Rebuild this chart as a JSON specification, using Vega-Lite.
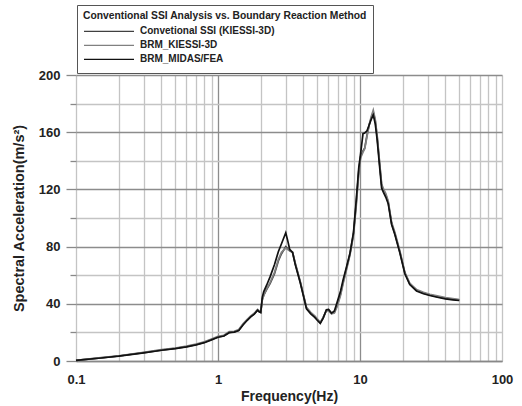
{
  "$schema": "https://vega.github.io/schema/vega-lite/v6.json",
  "width": 426,
  "height": 286,
  "autosize": {"type": "none"},
  "padding": {"left": 76, "top": 75, "right": 20, "bottom": 45},
  "background": "white",
  "config": {
    "font": "Liberation Sans",
    "view": {"stroke": null}
  },
  "data": {
    "values": [
      {"f": 0.1, "Convetional SSI (KIESSI-3D)": 0.5, "BRM_KIESSI-3D": 0.5, "BRM_MIDAS/FEA": 0.5},
      {"f": 0.15, "Convetional SSI (KIESSI-3D)": 2.2, "BRM_KIESSI-3D": 2.3, "BRM_MIDAS/FEA": 2.1},
      {"f": 0.2, "Convetional SSI (KIESSI-3D)": 3.5, "BRM_KIESSI-3D": 3.6, "BRM_MIDAS/FEA": 3.4},
      {"f": 0.3, "Convetional SSI (KIESSI-3D)": 5.8, "BRM_KIESSI-3D": 6.0, "BRM_MIDAS/FEA": 5.7},
      {"f": 0.4, "Convetional SSI (KIESSI-3D)": 7.6, "BRM_KIESSI-3D": 7.9, "BRM_MIDAS/FEA": 7.5},
      {"f": 0.5, "Convetional SSI (KIESSI-3D)": 8.8, "BRM_KIESSI-3D": 9.1, "BRM_MIDAS/FEA": 8.7},
      {"f": 0.6, "Convetional SSI (KIESSI-3D)": 10.0, "BRM_KIESSI-3D": 10.4, "BRM_MIDAS/FEA": 9.9},
      {"f": 0.7, "Convetional SSI (KIESSI-3D)": 11.4, "BRM_KIESSI-3D": 11.8, "BRM_MIDAS/FEA": 11.3},
      {"f": 0.8, "Convetional SSI (KIESSI-3D)": 13.0, "BRM_KIESSI-3D": 13.4, "BRM_MIDAS/FEA": 12.8},
      {"f": 0.9, "Convetional SSI (KIESSI-3D)": 15.0, "BRM_KIESSI-3D": 15.4, "BRM_MIDAS/FEA": 14.8},
      {"f": 1.0, "Convetional SSI (KIESSI-3D)": 16.8, "BRM_KIESSI-3D": 17.2, "BRM_MIDAS/FEA": 16.6},
      {"f": 1.1, "Convetional SSI (KIESSI-3D)": 17.6, "BRM_KIESSI-3D": 18.0, "BRM_MIDAS/FEA": 17.5},
      {"f": 1.2, "Convetional SSI (KIESSI-3D)": 20.0, "BRM_KIESSI-3D": 20.5, "BRM_MIDAS/FEA": 19.8},
      {"f": 1.3, "Convetional SSI (KIESSI-3D)": 20.4, "BRM_KIESSI-3D": 20.8, "BRM_MIDAS/FEA": 20.2},
      {"f": 1.4, "Convetional SSI (KIESSI-3D)": 21.5, "BRM_KIESSI-3D": 22.0, "BRM_MIDAS/FEA": 21.3},
      {"f": 1.5, "Convetional SSI (KIESSI-3D)": 25.5, "BRM_KIESSI-3D": 26.0, "BRM_MIDAS/FEA": 25.2},
      {"f": 1.6, "Convetional SSI (KIESSI-3D)": 28.5, "BRM_KIESSI-3D": 29.0, "BRM_MIDAS/FEA": 28.3},
      {"f": 1.7, "Convetional SSI (KIESSI-3D)": 31.0, "BRM_KIESSI-3D": 31.5, "BRM_MIDAS/FEA": 30.8},
      {"f": 1.8, "Convetional SSI (KIESSI-3D)": 33.0, "BRM_KIESSI-3D": 33.4, "BRM_MIDAS/FEA": 32.8},
      {"f": 1.9, "Convetional SSI (KIESSI-3D)": 35.5, "BRM_KIESSI-3D": 36.0, "BRM_MIDAS/FEA": 35.5},
      {"f": 1.95, "Convetional SSI (KIESSI-3D)": 34.5, "BRM_KIESSI-3D": 35.0, "BRM_MIDAS/FEA": 34.5},
      {"f": 2.0, "Convetional SSI (KIESSI-3D)": 34.0, "BRM_KIESSI-3D": 34.5, "BRM_MIDAS/FEA": 34.0},
      {"f": 2.05, "Convetional SSI (KIESSI-3D)": 43.0, "BRM_KIESSI-3D": 42.5, "BRM_MIDAS/FEA": 44.5},
      {"f": 2.1, "Convetional SSI (KIESSI-3D)": 46.0, "BRM_KIESSI-3D": 46.0, "BRM_MIDAS/FEA": 48.5},
      {"f": 2.2, "Convetional SSI (KIESSI-3D)": 50.0, "BRM_KIESSI-3D": 50.5, "BRM_MIDAS/FEA": 53.0},
      {"f": 2.33, "Convetional SSI (KIESSI-3D)": 54.3, "BRM_KIESSI-3D": 55.0, "BRM_MIDAS/FEA": 59.0},
      {"f": 2.5, "Convetional SSI (KIESSI-3D)": 61.0, "BRM_KIESSI-3D": 62.0, "BRM_MIDAS/FEA": 67.5},
      {"f": 2.66, "Convetional SSI (KIESSI-3D)": 70.0, "BRM_KIESSI-3D": 71.0, "BRM_MIDAS/FEA": 76.4},
      {"f": 2.8, "Convetional SSI (KIESSI-3D)": 75.0, "BRM_KIESSI-3D": 76.0, "BRM_MIDAS/FEA": 82.0},
      {"f": 3.0, "Convetional SSI (KIESSI-3D)": 80.0, "BRM_KIESSI-3D": 79.0, "BRM_MIDAS/FEA": 89.7},
      {"f": 3.1, "Convetional SSI (KIESSI-3D)": 78.5, "BRM_KIESSI-3D": 78.0, "BRM_MIDAS/FEA": 84.0},
      {"f": 3.2, "Convetional SSI (KIESSI-3D)": 77.0, "BRM_KIESSI-3D": 77.0, "BRM_MIDAS/FEA": 78.0},
      {"f": 3.35, "Convetional SSI (KIESSI-3D)": 76.0, "BRM_KIESSI-3D": 76.0, "BRM_MIDAS/FEA": 76.0},
      {"f": 3.5, "Convetional SSI (KIESSI-3D)": 68.0, "BRM_KIESSI-3D": 68.5, "BRM_MIDAS/FEA": 67.5},
      {"f": 3.8, "Convetional SSI (KIESSI-3D)": 55.0, "BRM_KIESSI-3D": 55.5, "BRM_MIDAS/FEA": 54.5},
      {"f": 4.2, "Convetional SSI (KIESSI-3D)": 37.0, "BRM_KIESSI-3D": 37.5, "BRM_MIDAS/FEA": 36.5},
      {"f": 4.5, "Convetional SSI (KIESSI-3D)": 33.5, "BRM_KIESSI-3D": 34.0, "BRM_MIDAS/FEA": 33.0},
      {"f": 4.8, "Convetional SSI (KIESSI-3D)": 31.0, "BRM_KIESSI-3D": 31.5, "BRM_MIDAS/FEA": 30.5},
      {"f": 5.0, "Convetional SSI (KIESSI-3D)": 29.0, "BRM_KIESSI-3D": 29.5, "BRM_MIDAS/FEA": 28.5},
      {"f": 5.25, "Convetional SSI (KIESSI-3D)": 26.5, "BRM_KIESSI-3D": 27.0, "BRM_MIDAS/FEA": 26.3},
      {"f": 5.5, "Convetional SSI (KIESSI-3D)": 30.0, "BRM_KIESSI-3D": 30.5, "BRM_MIDAS/FEA": 30.0},
      {"f": 5.8, "Convetional SSI (KIESSI-3D)": 35.5, "BRM_KIESSI-3D": 35.0, "BRM_MIDAS/FEA": 35.8},
      {"f": 6.0, "Convetional SSI (KIESSI-3D)": 35.8, "BRM_KIESSI-3D": 35.0, "BRM_MIDAS/FEA": 36.0},
      {"f": 6.3, "Convetional SSI (KIESSI-3D)": 33.3, "BRM_KIESSI-3D": 33.0, "BRM_MIDAS/FEA": 33.5},
      {"f": 6.6, "Convetional SSI (KIESSI-3D)": 34.0, "BRM_KIESSI-3D": 33.5, "BRM_MIDAS/FEA": 35.0},
      {"f": 6.9, "Convetional SSI (KIESSI-3D)": 39.0, "BRM_KIESSI-3D": 38.0, "BRM_MIDAS/FEA": 41.0},
      {"f": 7.3, "Convetional SSI (KIESSI-3D)": 47.0, "BRM_KIESSI-3D": 46.0, "BRM_MIDAS/FEA": 49.0},
      {"f": 7.6, "Convetional SSI (KIESSI-3D)": 55.0, "BRM_KIESSI-3D": 54.0, "BRM_MIDAS/FEA": 56.6},
      {"f": 8.0, "Convetional SSI (KIESSI-3D)": 64.0, "BRM_KIESSI-3D": 63.0, "BRM_MIDAS/FEA": 65.0},
      {"f": 8.5, "Convetional SSI (KIESSI-3D)": 75.0, "BRM_KIESSI-3D": 74.0, "BRM_MIDAS/FEA": 75.3},
      {"f": 9.0, "Convetional SSI (KIESSI-3D)": 89.0, "BRM_KIESSI-3D": 88.0, "BRM_MIDAS/FEA": 90.0},
      {"f": 9.4, "Convetional SSI (KIESSI-3D)": 110.0, "BRM_KIESSI-3D": 108.0, "BRM_MIDAS/FEA": 112.0},
      {"f": 9.8, "Convetional SSI (KIESSI-3D)": 133.0, "BRM_KIESSI-3D": 131.0, "BRM_MIDAS/FEA": 135.0},
      {"f": 10.1, "Convetional SSI (KIESSI-3D)": 143.0, "BRM_KIESSI-3D": 142.0, "BRM_MIDAS/FEA": 145.0},
      {"f": 10.5, "Convetional SSI (KIESSI-3D)": 147.0, "BRM_KIESSI-3D": 146.0, "BRM_MIDAS/FEA": 159.0},
      {"f": 10.8, "Convetional SSI (KIESSI-3D)": 149.0, "BRM_KIESSI-3D": 148.5, "BRM_MIDAS/FEA": 159.5},
      {"f": 11.2, "Convetional SSI (KIESSI-3D)": 158.0, "BRM_KIESSI-3D": 157.0, "BRM_MIDAS/FEA": 161.0},
      {"f": 11.6, "Convetional SSI (KIESSI-3D)": 165.0, "BRM_KIESSI-3D": 165.0, "BRM_MIDAS/FEA": 165.0},
      {"f": 12.0, "Convetional SSI (KIESSI-3D)": 170.0, "BRM_KIESSI-3D": 171.0, "BRM_MIDAS/FEA": 169.0},
      {"f": 12.4, "Convetional SSI (KIESSI-3D)": 174.0, "BRM_KIESSI-3D": 175.5, "BRM_MIDAS/FEA": 172.0},
      {"f": 12.8, "Convetional SSI (KIESSI-3D)": 168.0, "BRM_KIESSI-3D": 169.0, "BRM_MIDAS/FEA": 166.0},
      {"f": 13.2, "Convetional SSI (KIESSI-3D)": 157.0, "BRM_KIESSI-3D": 158.0, "BRM_MIDAS/FEA": 155.0},
      {"f": 13.8, "Convetional SSI (KIESSI-3D)": 136.0, "BRM_KIESSI-3D": 137.0, "BRM_MIDAS/FEA": 134.0},
      {"f": 14.2, "Convetional SSI (KIESSI-3D)": 123.0, "BRM_KIESSI-3D": 124.0, "BRM_MIDAS/FEA": 121.0},
      {"f": 14.6, "Convetional SSI (KIESSI-3D)": 119.5, "BRM_KIESSI-3D": 120.5, "BRM_MIDAS/FEA": 118.0},
      {"f": 15.2, "Convetional SSI (KIESSI-3D)": 116.0, "BRM_KIESSI-3D": 117.0, "BRM_MIDAS/FEA": 114.5},
      {"f": 15.8, "Convetional SSI (KIESSI-3D)": 111.0, "BRM_KIESSI-3D": 112.0, "BRM_MIDAS/FEA": 110.0},
      {"f": 16.7, "Convetional SSI (KIESSI-3D)": 96.0, "BRM_KIESSI-3D": 97.0, "BRM_MIDAS/FEA": 95.5},
      {"f": 17.6, "Convetional SSI (KIESSI-3D)": 89.0, "BRM_KIESSI-3D": 90.0, "BRM_MIDAS/FEA": 88.5},
      {"f": 19.1, "Convetional SSI (KIESSI-3D)": 76.0, "BRM_KIESSI-3D": 77.0, "BRM_MIDAS/FEA": 75.5},
      {"f": 20.7, "Convetional SSI (KIESSI-3D)": 61.5, "BRM_KIESSI-3D": 62.0, "BRM_MIDAS/FEA": 61.0},
      {"f": 22.4, "Convetional SSI (KIESSI-3D)": 54.0, "BRM_KIESSI-3D": 54.5, "BRM_MIDAS/FEA": 53.5},
      {"f": 25, "Convetional SSI (KIESSI-3D)": 49.5, "BRM_KIESSI-3D": 50.0, "BRM_MIDAS/FEA": 49.0},
      {"f": 28, "Convetional SSI (KIESSI-3D)": 47.5, "BRM_KIESSI-3D": 48.0, "BRM_MIDAS/FEA": 47.0},
      {"f": 31, "Convetional SSI (KIESSI-3D)": 46.2, "BRM_KIESSI-3D": 46.7, "BRM_MIDAS/FEA": 45.8},
      {"f": 35, "Convetional SSI (KIESSI-3D)": 45.0, "BRM_KIESSI-3D": 45.5, "BRM_MIDAS/FEA": 44.6},
      {"f": 40, "Convetional SSI (KIESSI-3D)": 43.8, "BRM_KIESSI-3D": 44.3, "BRM_MIDAS/FEA": 43.4},
      {"f": 45, "Convetional SSI (KIESSI-3D)": 43.2, "BRM_KIESSI-3D": 43.6, "BRM_MIDAS/FEA": 42.8},
      {"f": 50, "Convetional SSI (KIESSI-3D)": 42.7, "BRM_KIESSI-3D": 43.0, "BRM_MIDAS/FEA": 42.3}
    ]
  },
  "transform": [
    {"fold": ["Convetional SSI (KIESSI-3D)", "BRM_KIESSI-3D", "BRM_MIDAS/FEA"], "as": ["series", "acc"]}
  ],
  "mark": {"type": "line", "strokeWidth": 1.7, "interpolate": "linear"},
  "encoding": {
    "x": {
      "field": "f",
      "type": "quantitative",
      "scale": {"type": "log", "domain": [0.1, 100], "nice": false},
      "axis": {
        "title": "Frequency(Hz)",
        "titleFontSize": 14,
        "titleFontWeight": "bold",
        "titleColor": "#222",
        "titlePadding": 3,
        "values": [0.1, 0.2, 0.3, 0.4, 0.5, 0.6, 0.7, 0.8, 0.9, 1, 2, 3, 4, 5, 6, 7, 8, 9, 10, 20, 30, 40, 50, 60, 70, 80, 90, 100],
        "labelExpr": "(datum.value == 0.1 || datum.value == 1 || datum.value == 10 || datum.value == 100) ? format(datum.value, '~g') : ''",
        "labelOverlap": false,
        "labelFontSize": 13,
        "labelFontWeight": "bold",
        "labelColor": "#222",
        "labelPadding": 12,
        "labelFlush": false,
        "ticks": false,
        "grid": true,
        "gridColor": {"condition": {"test": "datum.value == 1 || datum.value == 10", "value": "#8c8c8c"}, "value": "#c4c4c4"},
        "gridWidth": 1.3,
        "domainColor": "#888",
        "domainWidth": 1.3
      }
    },
    "y": {
      "field": "acc",
      "type": "quantitative",
      "scale": {"domain": [0, 200], "nice": false},
      "axis": {
        "title": "Spectral Acceleration(m/s²)",
        "titleFontSize": 14.5,
        "titleFontWeight": "bold",
        "titleColor": "#222",
        "titlePadding": 12,
        "values": [0, 20, 40, 60, 80, 100, 120, 140, 160, 180, 200],
        "labelExpr": "datum.value % 40 == 0 ? datum.label : ''",
        "labelOverlap": false,
        "labelFontSize": 13,
        "labelFontWeight": "bold",
        "labelColor": "#222",
        "labelPadding": 6,
        "tickSize": {"condition": {"test": "datum.value % 40 == 0", "value": 10}, "value": 6},
        "tickColor": "#888",
        "tickWidth": 1.3,
        "grid": true,
        "gridColor": {"condition": {"test": "datum.value % 40 == 0", "value": "#8c8c8c"}, "value": "#c4c4c4"},
        "gridWidth": 1.3,
        "domain": false
      }
    },
    "color": {
      "field": "series",
      "type": "nominal",
      "scale": {
        "domain": ["Convetional SSI (KIESSI-3D)", "BRM_KIESSI-3D", "BRM_MIDAS/FEA"],
        "range": ["#404040", "#808080", "#111111"]
      },
      "legend": {
        "title": "Conventional SSI Analysis vs. Boundary Reaction Method",
        "orient": "none",
        "legendX": 1,
        "legendY": -70,
        "direction": "vertical",
        "titleFontSize": 10.3,
        "titleFontWeight": "bold",
        "titleColor": "#222",
        "titleLimit": 400,
        "titlePadding": 3,
        "labelFontSize": 10,
        "labelFontWeight": "bold",
        "labelColor": "#222",
        "labelOffset": 5,
        "labelLimit": 300,
        "symbolType": "stroke",
        "symbolSize": 2500,
        "symbolStrokeWidth": 1.3,
        "clipHeight": 14,
        "rowPadding": 0,
        "padding": 6,
        "strokeColor": "#555",
        "fillColor": "white"
      }
    }
  }
}
